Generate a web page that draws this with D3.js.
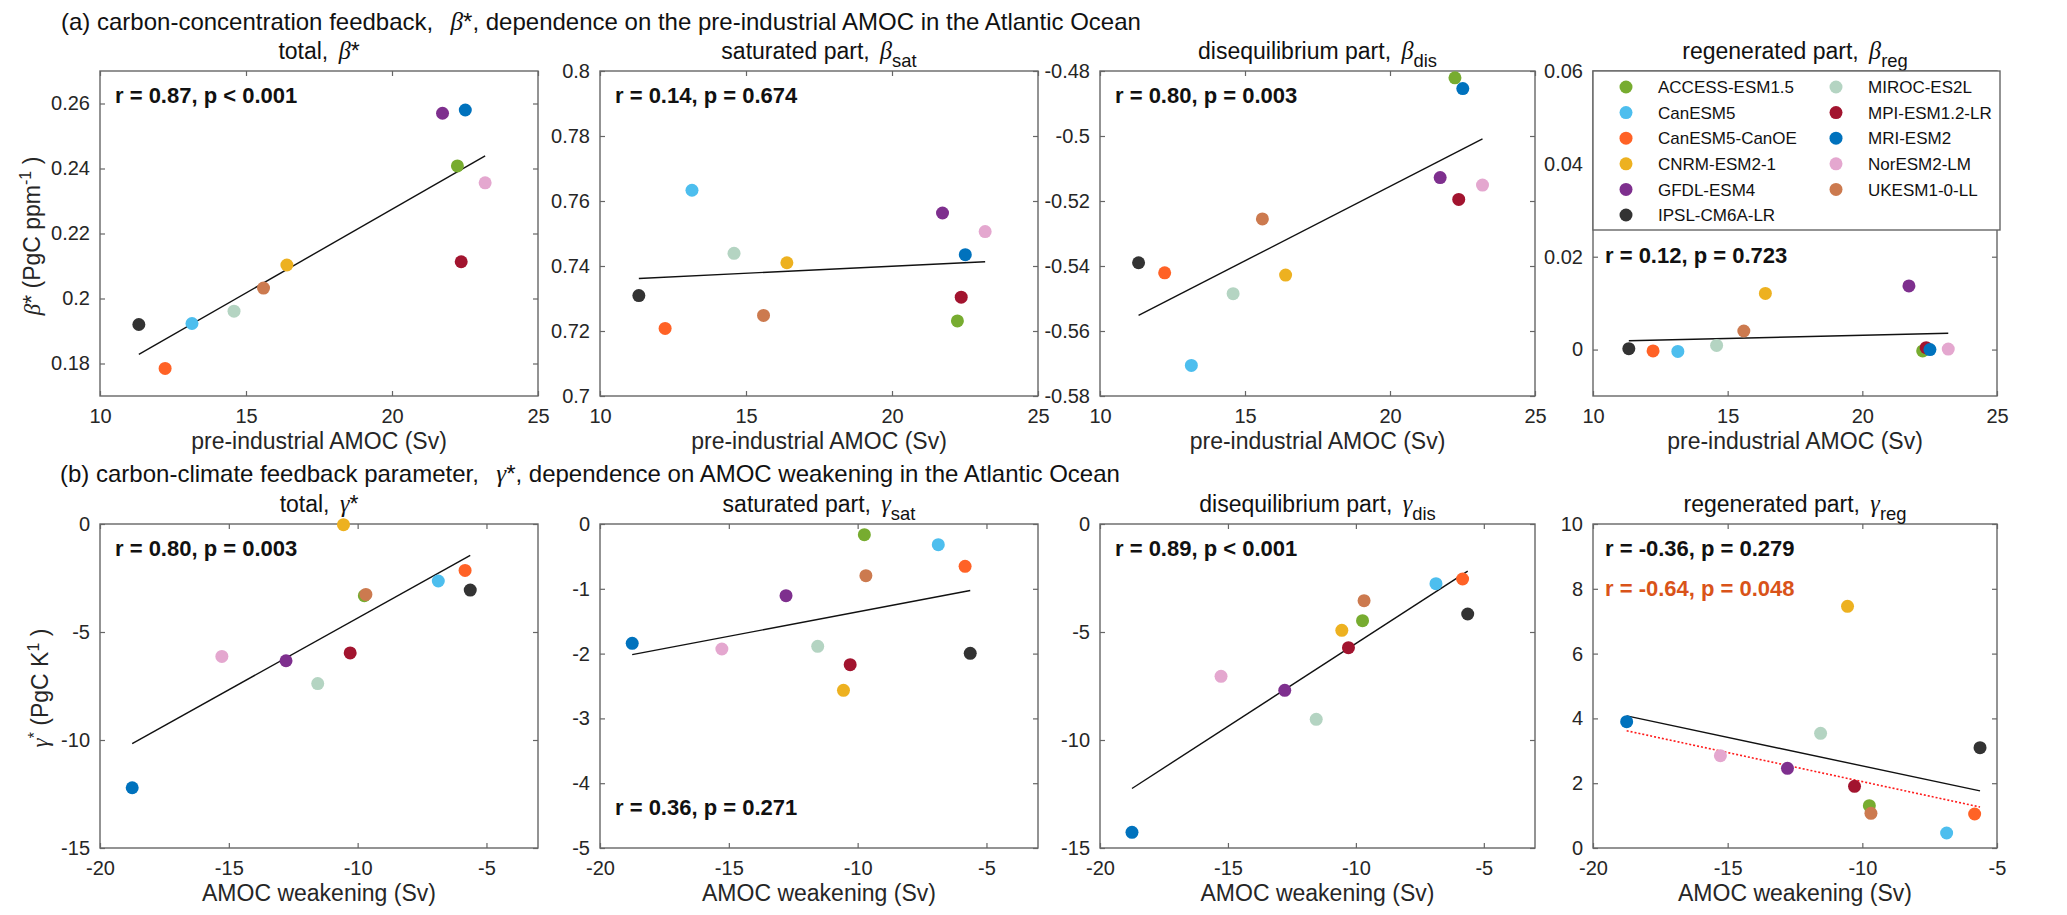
<!DOCTYPE html>
<html>
<head>
<meta charset="utf-8">
<script src="https://cdn.jsdelivr.net/npm/d3@7.9.0/dist/d3.min.js"></script>
<style>
  body { margin: 0; background: #fff; }
  svg { font-family: "Liberation Sans", Arial, sans-serif; }
  svg text { white-space: pre; }
  .tick text { fill: #262626; font-size: 20px; }
  .tick line { stroke: #666; stroke-width: 1.2; }
</style>
</head>
<body>
<svg id="chart" width="2067" height="915"></svg>
<script>
// models, in legend order
const models = ['ACCESS-ESM1.5', 'CanESM5', 'CanESM5-CanOE', 'CNRM-ESM2-1', 'GFDL-ESM4',
  'IPSL-CM6A-LR', 'MIROC-ES2L', 'MPI-ESM1.2-LR', 'MRI-ESM2', 'NorESM2-LM', 'UKESM1-0-LL'];
const modelColors = ['#77ac30', '#4dbeee', '#ff6226', '#edb120', '#7e2f8e',
  '#333333', '#b4d4c2', '#a2142f', '#0072bd', '#e4a7cf', '#cc7a4f'];

// (a) pre-industrial AMOC (Sv) and beta components
const amocPI    = [22.24, 13.15, 12.23, 16.40, 21.73, 11.33, 14.59, 22.37, 22.51, 23.19, 15.60];
const betaTotal = [0.2408, 0.1923, 0.1785, 0.2103, 0.2570, 0.1920, 0.1961, 0.2113, 0.2580, 0.2356, 0.2032];
const betaSat   = [0.7231, 0.7633, 0.7208, 0.7410, 0.7563, 0.7309, 0.7439, 0.7304, 0.7435, 0.7506, 0.7248];
const betaDis   = [-0.4821, -0.5706, -0.5421, -0.5428, -0.5128, -0.5390, -0.5485, -0.5195, -0.4854, -0.5151, -0.5255];
const betaReg   = [-0.0003, -0.0004, -0.0003, 0.0121, 0.0137, 0.0002, 0.0009, 0.0004, 0.0000, 0.0001, 0.0040];

// (b) AMOC weakening (Sv) and gamma components
const amocWeak   = [-9.74, -6.87, -5.83, -10.55, -12.78, -5.63, -11.55, -10.29, -18.75, -15.27, -9.68];
const gammaTotal = [-3.32, -2.64, -2.15, -0.03, -6.33, -3.06, -7.39, -5.97, -12.21, -6.13, -3.26];
const gammaSat   = [-0.165, -0.319, -0.653, -2.567, -1.106, -1.996, -1.888, -2.171, -1.842, -1.929, -0.797];
const gammaDis   = [-4.475, -2.762, -2.546, -4.923, -7.701, -4.167, -9.043, -5.725, -14.275, -7.052, -3.549];
const gammaReg   = [1.307, 0.463, 1.049, 7.459, 2.459, 3.097, 3.539, 1.903, 3.899, 2.850, 1.070];

// correlation labels
const statsA = ['r = 0.87, p < 0.001', 'r = 0.14, p = 0.674', 'r = 0.80, p = 0.003', 'r = 0.12, p = 0.723'];
const statsB = ['r = 0.80, p = 0.003', 'r = 0.36, p = 0.271', 'r = 0.89, p < 0.001', 'r = -0.36, p = 0.279'];
const statsRegNoCNRM = 'r = -0.64, p = 0.048';

// tick values
const xTicksA = [10, 15, 20, 25];
const xTicksB = [-20, -15, -10, -5];
const yTicksBetaTotal = [0.18, 0.2, 0.22, 0.24, 0.26];
const yTicksBetaSat = [0.7, 0.72, 0.74, 0.76, 0.78, 0.8];
const yTicksBetaDis = [-0.58, -0.56, -0.54, -0.52, -0.5, -0.48];
const yTicksBetaReg = [0, 0.02, 0.04, 0.06];
const yTicksGammaTotal = [-15, -10, -5, 0];
const yTicksGammaSat = [-5, -4, -3, -2, -1, 0];
const yTicksGammaDis = [-15, -10, -5, 0];
const yTicksGammaReg = [0, 2, 4, 6, 8, 10];

const svg = d3.select('#chart');
const fmt = d => String(+d.toFixed(4));

// column / row boxes in pixels
const cols = [[100, 538], [600, 1038], [1100, 1535], [1593, 1997]];
const rows = [[71, 396], [524, 848]];

const panels = [
  { row: 0, col: 0, x: amocPI, y: betaTotal, xd: [10, 25], yd: [0.17, 0.27], xt: xTicksA, yt: yTicksBetaTotal,
    title: ['total, ', 'β', '*', ''], stat: statsA[0], statPos: 'top' },
  { row: 0, col: 1, x: amocPI, y: betaSat, xd: [10, 25], yd: [0.7, 0.8], xt: xTicksA, yt: yTicksBetaSat,
    title: ['saturated part, ', 'β', '', 'sat'], stat: statsA[1], statPos: 'top' },
  { row: 0, col: 2, x: amocPI, y: betaDis, xd: [10, 25], yd: [-0.58, -0.48], xt: xTicksA, yt: yTicksBetaDis,
    title: ['disequilibrium part, ', 'β', '', 'dis'], stat: statsA[2], statPos: 'top' },
  { row: 0, col: 3, x: amocPI, y: betaReg, xd: [10, 25], yd: [-0.01, 0.06], xt: xTicksA, yt: yTicksBetaReg,
    title: ['regenerated part, ', 'β', '', 'reg'], stat: statsA[3], statPos: 'legend' },
  { row: 1, col: 0, x: amocWeak, y: gammaTotal, xd: [-20, -3], yd: [-15, 0], xt: xTicksB, yt: yTicksGammaTotal,
    title: ['total, ', 'γ', '*', ''], stat: statsB[0], statPos: 'top' },
  { row: 1, col: 1, x: amocWeak, y: gammaSat, xd: [-20, -3], yd: [-5, 0], xt: xTicksB, yt: yTicksGammaSat,
    title: ['saturated part, ', 'γ', '', 'sat'], stat: statsB[1], statPos: 'bottom' },
  { row: 1, col: 2, x: amocWeak, y: gammaDis, xd: [-20, -3], yd: [-15, 0], xt: xTicksB, yt: yTicksGammaDis,
    title: ['disequilibrium part, ', 'γ', '', 'dis'], stat: statsB[2], statPos: 'top' },
  { row: 1, col: 3, x: amocWeak, y: gammaReg, xd: [-20, -5], yd: [0, 10], xt: xTicksB, yt: yTicksGammaReg,
    title: ['regenerated part, ', 'γ', '', 'reg'], stat: statsB[3], statPos: 'top', extraFit: true }
];

// least squares line over the data range
function fitLine(xs, ys) {
  const mx = d3.mean(xs), my = d3.mean(ys);
  const sxy = d3.sum(xs, (x, i) => (x - mx) * (ys[i] - my));
  const sxx = d3.sum(xs, x => (x - mx) ** 2);
  const b = sxy / sxx, a = my - b * mx;
  const [x0, x1] = d3.extent(xs);
  return [[x0, a + b * x0], [x1, a + b * x1]];
}

// greek text with optional star / subscript
function greekText(sel, parts, size) {
  const [plain, greek, star, sub] = parts;
  sel.append('tspan').text(plain);
  sel.append('tspan').attr('font-family', '"Liberation Serif", serif').attr('font-style', 'italic')
    .attr('dx', 4).attr('font-size', size * 1.05).text(greek);
  if (star) sel.append('tspan').text(star);
  if (sub) sel.append('tspan').attr('font-size', size * 0.8).attr('dy', size * 0.35).text(sub);
}

panels.forEach(p => {
  const [x0, x1] = cols[p.col];
  const [y0, y1] = rows[p.row];
  const xs = d3.scaleLinear().domain(p.xd).range([x0, x1]);
  const ys = d3.scaleLinear().domain(p.yd).range([y1, y0]);
  const g = svg.append('g');

  g.append('rect').attr('x', x0).attr('y', y0).attr('width', x1 - x0).attr('height', y1 - y0)
    .attr('fill', 'none').attr('stroke', '#666').attr('stroke-width', 1.4);

  const ax = (sel) => sel.call(s => s.select('.domain').remove()).attr('font-family', null).attr('font-size', null);
  g.append('g').attr('transform', `translate(0,${y1})`)
    .call(d3.axisBottom(xs).tickValues(p.xt).tickFormat(fmt).tickSizeInner(-5).tickSizeOuter(0).tickPadding(13)).call(ax);
  g.append('g').attr('transform', `translate(0,${y0})`)
    .call(d3.axisTop(xs).tickValues(p.xt).tickFormat('').tickSizeInner(-5).tickSizeOuter(0)).call(ax);
  g.append('g').attr('transform', `translate(${x0},0)`)
    .call(d3.axisLeft(ys).tickValues(p.yt).tickFormat(fmt).tickSizeInner(-5).tickSizeOuter(0).tickPadding(10)).call(ax);
  g.append('g').attr('transform', `translate(${x1},0)`)
    .call(d3.axisRight(ys).tickValues(p.yt).tickFormat('').tickSizeInner(-5).tickSizeOuter(0)).call(ax);

  // regression line(s)
  const line = d3.line().x(d => xs(d[0])).y(d => ys(d[1]));
  g.append('path').attr('d', line(fitLine(p.x, p.y))).attr('fill', 'none')
    .attr('stroke', '#111').attr('stroke-width', 1.4);
  if (p.extraFit) {
    const keep = models.map((m, i) => i).filter(i => models[i] !== 'CNRM-ESM2-1');
    g.append('path').attr('d', line(fitLine(keep.map(i => p.x[i]), keep.map(i => p.y[i]))))
      .attr('fill', 'none').attr('stroke', '#ff1a1a').attr('stroke-width', 1.6).attr('stroke-dasharray', '2,2');
  }

  g.selectAll('circle.pt').data(models).join('circle').attr('class', 'pt')
    .attr('cx', (d, i) => xs(p.x[i])).attr('cy', (d, i) => ys(p.y[i]))
    .attr('r', 6.5).attr('fill', (d, i) => modelColors[i]);

  // panel title
  const t = g.append('text').attr('x', (x0 + x1) / 2).attr('y', y0 - 12)
    .attr('text-anchor', 'middle').attr('font-size', 23).attr('fill', '#111');
  greekText(t, p.title, 23);

  // stats
  let sy = y0 + 32;
  if (p.statPos === 'bottom') sy = y1 - 33;
  if (p.statPos === 'legend') sy = 263;
  g.append('text').attr('x', x0 + (p.col === 3 ? 12 : 15)).attr('y', sy)
    .attr('font-size', 22).attr('font-weight', 'bold').attr('fill', '#111').text(p.stat);
  if (p.extraFit) {
    g.append('text').attr('x', x0 + 12).attr('y', sy + 40)
      .attr('font-size', 22).attr('font-weight', 'bold').attr('fill', '#d95319').text(statsRegNoCNRM);
  }

  // x label
  g.append('text').attr('x', (x0 + x1) / 2).attr('y', y1 + 53)
    .attr('text-anchor', 'middle').attr('font-size', 23).attr('fill', '#262626')
    .text(p.row === 0 ? 'pre-industrial AMOC (Sv)' : 'AMOC weakening (Sv)');
});

// y labels
const yl1 = svg.append('text').attr('transform', 'translate(40,236) rotate(-90)')
  .attr('text-anchor', 'middle').attr('font-size', 23).attr('fill', '#262626');
yl1.append('tspan').attr('font-family', '"Liberation Serif", serif').attr('font-style', 'italic').text('β');
yl1.append('tspan').text('* (PgC ppm');
yl1.append('tspan').attr('font-size', 16).attr('dy', -9).text('-1');
yl1.append('tspan').attr('dy', 9).text(' )');

const yl2 = svg.append('text').attr('transform', 'translate(48,688) rotate(-90)')
  .attr('text-anchor', 'middle').attr('font-size', 23).attr('fill', '#262626');
yl2.append('tspan').attr('font-family', '"Liberation Serif", serif').attr('font-style', 'italic').text('γ');
yl2.append('tspan').attr('font-size', 16).attr('dy', -8).text('*');
yl2.append('tspan').attr('dy', 8).text(' (PgC K');
yl2.append('tspan').attr('font-size', 16).attr('dy', -9).text('1');
yl2.append('tspan').attr('dy', 9).text(' )');

// row titles
const ta = svg.append('text').attr('x', 61).attr('y', 30).attr('font-size', 24).attr('fill', '#111');
greekText(ta, ['(a) carbon-concentration feedback,  ', 'β', '*', ''], 24);
ta.append('tspan').text(', dependence on the pre-industrial AMOC in the Atlantic Ocean');

const tb = svg.append('text').attr('x', 60).attr('y', 482).attr('font-size', 24).attr('fill', '#111');
greekText(tb, ['(b) carbon-climate feedback parameter,  ', 'γ', '*', ''], 24);
tb.append('tspan').text(', dependence on AMOC weakening in the Atlantic Ocean');

// legend
const lg = svg.append('g');
lg.append('rect').attr('x', 1593).attr('y', 71).attr('width', 407).attr('height', 159)
  .attr('fill', '#fff').attr('stroke', '#666').attr('stroke-width', 1.4);
const item = lg.selectAll('g.item').data(models).join('g').attr('class', 'item')
  .attr('transform', (d, i) => `translate(${i < 6 ? 1626 : 1836},${87 + (i % 6) * 25.6})`);
item.append('circle').attr('r', 6.5).attr('fill', (d, i) => modelColors[i]);
item.append('text').attr('x', 32).attr('dy', '0.36em').attr('font-size', 17).attr('fill', '#111').text(d => d);
</script>
</body>
</html>
